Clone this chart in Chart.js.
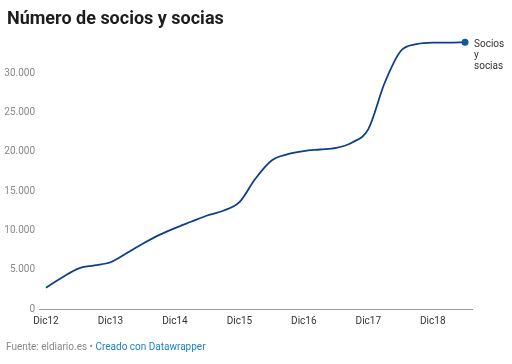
<!DOCTYPE html>
<html>
<head>
<meta charset="utf-8">
<script src="https://cdn.jsdelivr.net/npm/chart.js@4"></script>
<style>
  html, body { margin: 0; padding: 0; background: #fff; }
  #wrap { position: relative; width: 512px; height: 364px; }
</style>
</head>
<body>
<div id="wrap"><canvas id="chart" width="512" height="364"></canvas></div>
<script>
// months counted from Dic12
var months = [0, 3, 6, 9, 12, 15, 18, 21, 24, 27, 30, 33, 36, 39, 42, 45, 48, 51, 54, 57, 60, 63, 66, 69, 72, 75, 78];
var socios = [2700, 4000, 5150, 5550, 5950, 7100, 8300, 9400, 10300, 11100, 11900, 12500, 13600, 16600, 18900, 19700, 20100, 20300, 20500, 21200, 22900, 28700, 32800, 33700, 33900, 33900, 33950];
var tickMonths = [0, 12, 24, 36, 48, 60, 72];
var tickLabels = ['Dic12', 'Dic13', 'Dic14', 'Dic15', 'Dic16', 'Dic17', 'Dic18'];
var seriesName = ['Socios', 'y', 'socias'];

var font = 'Roboto, "Noto Sans", sans-serif';

var points = months.map((m, i) => ({ x: m, y: socios[i] }));
var lastIdx = points.length - 1;

var extras = {
    id: 'extras',
    afterDraw: function (chart) {
        var c = chart.ctx;
        c.save();
        // title
        c.fillStyle = '#1d1d1d';
        c.font = 'bold 18px ' + font;
        c.textBaseline = 'alphabetic';
        c.textAlign = 'left';
        c.fillText('Número de socios y socias', 7, 24);

        // end label
        var pt = chart.getDatasetMeta(0).data[lastIdx];
        c.font = '10px ' + font;
        c.fillStyle = '#333';
        c.textBaseline = 'middle';
        seriesName.forEach(function (t, i) {
            c.fillText(t, pt.x + 9, pt.y + 2 + i * 11);
        });

        // footer
        c.textBaseline = 'alphabetic';
        var src = 'Fuente: eldiario.es • ';
        c.fillStyle = '#888';
        c.fillText(src, 6, 350);
        var w = c.measureText(src).width;
        c.fillStyle = '#1d81c8';
        c.fillText('Creado con Datawrapper', 6 + w, 350);
        c.restore();
    }
};

new Chart(document.getElementById('chart'), {
    type: 'line',
    data: {
        datasets: [{
            label: 'Socios y socias',
            data: points,
            borderColor: '#0d3f8f',
            backgroundColor: '#12579c',
            borderWidth: 1.8,
            fill: false,
            cubicInterpolationMode: 'monotone',
            pointRadius: ctx => ctx.dataIndex === lastIdx ? 3.5 : 0,
            pointBorderWidth: 0,
            pointBackgroundColor: '#12579c'
        }]
    },
    options: {
        responsive: false,
        animation: false,
        layout: { padding: { top: 34, right: 40, left: 0, bottom: 0 } },
        plugins: { legend: { display: false }, tooltip: { enabled: false } },
        scales: {
            x: {
                type: 'linear',
                min: -1.3,
                max: 79.3,
                afterFit: function (s) { s.height = 55; },
                afterBuildTicks: function (s) { s.ticks = tickMonths.map(v => ({ value: v })); },
                grid: { display: false, drawTicks: false },
                border: { display: true, color: '#999', width: 1 },
                ticks: {
                    padding: 6,
                    maxRotation: 0,
                    autoSkip: false,
                    color: '#333',
                    font: { family: font, size: 10 },
                    callback: function (v) {
                        var i = tickMonths.indexOf(v);
                        return i >= 0 ? tickLabels[i] : '';
                    }
                }
            },
            y: {
                min: 0,
                max: 35000,
                afterFit: function (s) { s.width = 39; },
                grid: { display: false, drawTicks: false },
                border: { display: false },
                ticks: {
                    stepSize: 5000,
                    padding: 4,
                    color: '#888',
                    font: { family: font, size: 10 },
                    callback: function (v) {
                        if (v > 30000) return '';
                        return v.toLocaleString('de-DE');
                    }
                }
            }
        }
    },
    plugins: [extras]
});
</script>
</body>
</html>
